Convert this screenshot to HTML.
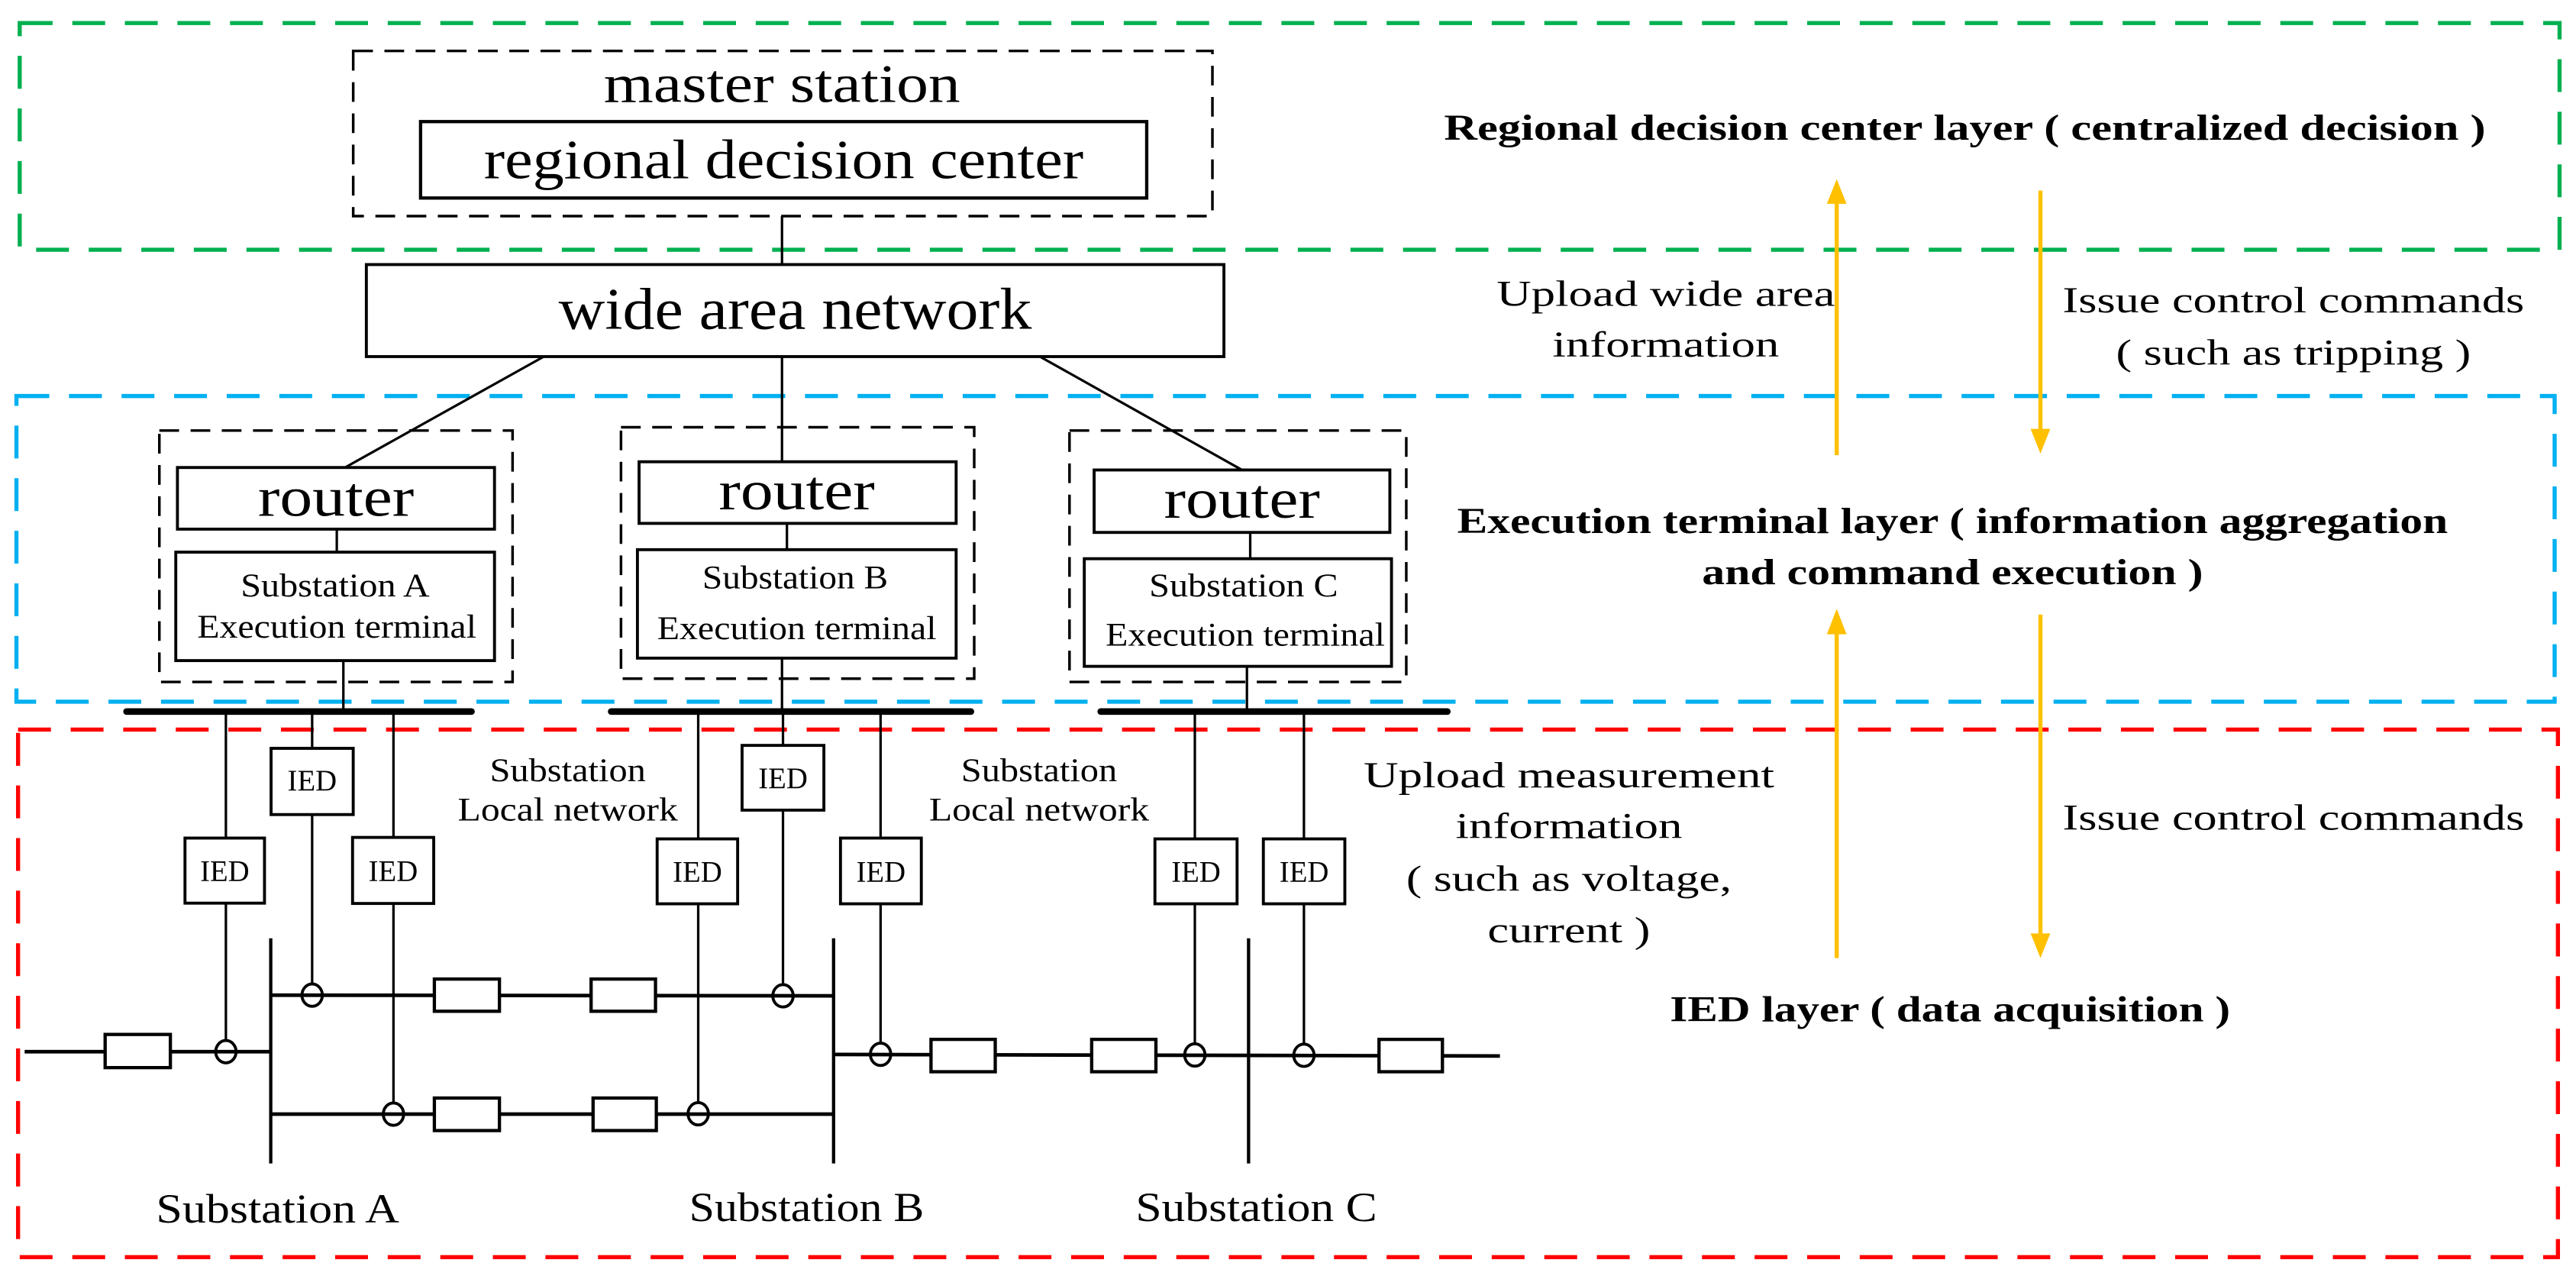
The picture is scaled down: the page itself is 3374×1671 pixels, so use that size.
<!DOCTYPE html>
<html><head><meta charset="utf-8"><style>
html,body{margin:0;padding:0;background:#fff;}
svg{display:block;}
text{font-family:"Liberation Serif",serif;fill:#000;}
</style></head><body>
<svg width="3374" height="1671" viewBox="0 0 1568 776.5" preserveAspectRatio="none" xmlns="http://www.w3.org/2000/svg">
<rect x="0" y="0" width="1568" height="776.5" fill="#fff"/>
<rect x="12" y="14" width="1546" height="138" fill="none" stroke="#00B050" stroke-width="2.5" stroke-dasharray="20 12"/>
<rect x="10" y="241" width="1545" height="186" fill="none" stroke="#00B0F0" stroke-width="2.5" stroke-dasharray="20 12"/>
<rect x="11" y="444" width="1546" height="321" fill="none" stroke="#FF0000" stroke-width="2.5" stroke-dasharray="20 12"/>

<g fill="none" stroke="#000">
<rect x="215" y="31" width="523" height="100.5" stroke-width="1.6" stroke-dasharray="12 7"/>
<rect x="256" y="74" width="442" height="46.5" stroke-width="2"/>
<line x1="476" y1="131.5" x2="476" y2="161" stroke-width="1.5"/>
<rect x="223" y="161" width="522" height="56" stroke-width="1.8"/>
<line x1="331" y1="217" x2="210" y2="284.5" stroke-width="1.5"/>
<line x1="476" y1="217" x2="476" y2="281" stroke-width="1.5"/>
<line x1="633" y1="217" x2="756" y2="286" stroke-width="1.5"/>
<rect x="97" y="262" width="215" height="153" stroke-width="1.6" stroke-dasharray="12 7"/>
<rect x="108" y="284.5" width="193" height="37.5" stroke-width="1.8"/>
<line x1="205" y1="322" x2="205" y2="336" stroke-width="1.5"/>
<rect x="107" y="336" width="194" height="66" stroke-width="1.8"/>
<line x1="209" y1="402" x2="209" y2="433" stroke-width="1.5"/>
<rect x="378" y="260" width="215" height="153" stroke-width="1.6" stroke-dasharray="12 7"/>
<rect x="389" y="281" width="193" height="37.5" stroke-width="1.8"/>
<line x1="479" y1="318.5" x2="479" y2="334.5" stroke-width="1.5"/>
<rect x="388" y="334.5" width="194" height="66" stroke-width="1.8"/>
<line x1="476" y1="400.5" x2="476" y2="433" stroke-width="1.5"/>
<rect x="651" y="262" width="205" height="153" stroke-width="1.6" stroke-dasharray="12 7"/>
<rect x="666" y="286" width="180" height="38" stroke-width="1.8"/>
<line x1="761" y1="324" x2="761" y2="340" stroke-width="1.5"/>
<rect x="660" y="340" width="187" height="65.5" stroke-width="1.8"/>
<line x1="759" y1="405.5" x2="759" y2="433" stroke-width="1.5"/>
<g stroke-width="4" stroke-linecap="round">
<line x1="77" y1="433" x2="287" y2="433"/>
<line x1="372" y1="433" x2="591" y2="433"/>
<line x1="670" y1="433" x2="881" y2="433"/>
</g>
<g stroke-width="1.5">
<line x1="137.5" y1="433" x2="137.5" y2="633"/>
<line x1="190" y1="433" x2="190" y2="599"/>
<line x1="239.5" y1="433" x2="239.5" y2="671.5"/>
<line x1="425" y1="433" x2="425" y2="671"/>
<line x1="476.6" y1="433" x2="476.6" y2="599.5"/>
<line x1="536" y1="433" x2="536" y2="635"/>
<line x1="727.3" y1="433" x2="727.3" y2="635.5"/>
<line x1="793.7" y1="433" x2="793.7" y2="635.5"/>
</g>
<g stroke-width="1.8" fill="#fff">
<rect x="112.6" y="510" width="48.4" height="39.6"/>
<rect x="165" y="455.4" width="50" height="40.3"/>
<rect x="214.6" y="509.6" width="49.4" height="40.2"/>
<rect x="400" y="510.5" width="49" height="39.5"/>
<rect x="451.7" y="453.6" width="49.8" height="39.4"/>
<rect x="511.6" y="510" width="49.2" height="40"/>
<rect x="703" y="510.5" width="50" height="39.5"/>
<rect x="769" y="510.5" width="49.6" height="39.5"/>
</g>
<g stroke-width="2">
<line x1="164.8" y1="571" x2="164.8" y2="708"/>
<line x1="507.4" y1="571" x2="507.4" y2="708"/>
<line x1="760" y1="571" x2="760" y2="708"/>
</g>
<g stroke-width="2.2">
<line x1="15" y1="640" x2="164.8" y2="640"/>
<line x1="164.8" y1="605.6" x2="507.4" y2="606"/>
<line x1="164.8" y1="678" x2="507.4" y2="678"/>
<line x1="507.4" y1="641.7" x2="913" y2="642.6"/>
</g>
<g stroke-width="2" fill="#fff">
<rect x="64" y="629.5" width="39.7" height="20.2"/>
<rect x="264.4" y="595.8" width="39.6" height="19.6"/>
<rect x="359.8" y="595.8" width="39.2" height="19.6"/>
<rect x="264.4" y="668.2" width="39.6" height="19.8"/>
<rect x="361" y="668.2" width="38.5" height="19.8"/>
<rect x="566.7" y="632.5" width="39.1" height="19.7"/>
<rect x="664.5" y="632.5" width="39.1" height="19.7"/>
<rect x="839.4" y="632.5" width="38.6" height="19.7"/>
</g>
<g stroke-width="1.8" fill="none">
<ellipse cx="137.5" cy="640" rx="6.2" ry="6.8"/>
<ellipse cx="190" cy="605.6" rx="6.2" ry="6.8"/>
<ellipse cx="239.5" cy="678" rx="6.2" ry="6.8"/>
<ellipse cx="425" cy="677.8" rx="6.2" ry="6.8"/>
<ellipse cx="476.6" cy="606" rx="6.2" ry="6.8"/>
<ellipse cx="536" cy="641.6" rx="6.2" ry="6.8"/>
<ellipse cx="727.3" cy="642" rx="6.2" ry="6.8"/>
<ellipse cx="793.7" cy="642.2" rx="6.2" ry="6.8"/>
</g>
</g>

<g stroke="#FFC000" stroke-width="2.5" fill="#FFC000">
<line x1="1118" y1="277" x2="1118" y2="122"/>
<polygon points="1112,124 1124,124 1118,109" stroke="none"/>
<line x1="1242" y1="116" x2="1242" y2="263"/>
<polygon points="1236,261 1248,261 1242,276" stroke="none"/>
<line x1="1118" y1="583" x2="1118" y2="384"/>
<polygon points="1112,386 1124,386 1118,370.5" stroke="none"/>
<line x1="1242" y1="374" x2="1242" y2="570"/>
<polygon points="1236,568 1248,568 1242,583" stroke="none"/>
</g>

<g text-anchor="middle">
<text x="476" y="62" font-size="33" textLength="217" lengthAdjust="spacingAndGlyphs">master station</text>
<text x="477" y="108.5" font-size="34" textLength="365" lengthAdjust="spacingAndGlyphs">regional decision center</text>
<text x="484" y="200" font-size="36" textLength="288" lengthAdjust="spacingAndGlyphs">wide area network</text>
<text x="204.5" y="314" font-size="34" textLength="95" lengthAdjust="spacingAndGlyphs">router</text>
<text x="485" y="310" font-size="34" textLength="95" lengthAdjust="spacingAndGlyphs">router</text>
<text x="756" y="315" font-size="34" textLength="95" lengthAdjust="spacingAndGlyphs">router</text>
<g font-size="20">
<text x="204" y="363" textLength="115" lengthAdjust="spacingAndGlyphs">Substation A</text>
<text x="205" y="388" textLength="170" lengthAdjust="spacingAndGlyphs">Execution terminal</text>
<text x="484" y="358" textLength="113" lengthAdjust="spacingAndGlyphs">Substation B</text>
<text x="485" y="389" textLength="170" lengthAdjust="spacingAndGlyphs">Execution terminal</text>
<text x="757" y="363" textLength="115" lengthAdjust="spacingAndGlyphs">Substation C</text>
<text x="758" y="393" textLength="170" lengthAdjust="spacingAndGlyphs">Execution terminal</text>
<text x="345.6" y="475.3" textLength="95" lengthAdjust="spacingAndGlyphs">Substation</text>
<text x="345.6" y="499.3" textLength="134" lengthAdjust="spacingAndGlyphs">Local  network</text>
<text x="632.5" y="475.3" textLength="95" lengthAdjust="spacingAndGlyphs">Substation</text>
<text x="632.5" y="499.3" textLength="134" lengthAdjust="spacingAndGlyphs">Local  network</text>
</g>
<g font-size="18">
<text x="136.8" y="536" textLength="30" lengthAdjust="spacingAndGlyphs">IED</text>
<text x="190" y="481" textLength="30" lengthAdjust="spacingAndGlyphs">IED</text>
<text x="239.3" y="536" textLength="30" lengthAdjust="spacingAndGlyphs">IED</text>
<text x="424.5" y="536.5" textLength="30" lengthAdjust="spacingAndGlyphs">IED</text>
<text x="476.6" y="479.5" textLength="30" lengthAdjust="spacingAndGlyphs">IED</text>
<text x="536.2" y="536.5" textLength="30" lengthAdjust="spacingAndGlyphs">IED</text>
<text x="728" y="536.5" textLength="30" lengthAdjust="spacingAndGlyphs">IED</text>
<text x="793.8" y="536.5" textLength="30" lengthAdjust="spacingAndGlyphs">IED</text>
</g>
<g font-size="25">
<text x="169" y="744" textLength="148" lengthAdjust="spacingAndGlyphs">Substation A</text>
<text x="491" y="743" textLength="143" lengthAdjust="spacingAndGlyphs">Substation B</text>
<text x="764.7" y="743" textLength="147" lengthAdjust="spacingAndGlyphs">Substation C</text>
</g>
<g font-size="22">
<text x="1014" y="186" textLength="206" lengthAdjust="spacingAndGlyphs">Upload wide area</text>
<text x="1014" y="217" textLength="138" lengthAdjust="spacingAndGlyphs">information</text>
<text x="1396" y="190" textLength="281" lengthAdjust="spacingAndGlyphs">Issue control commands</text>
<text x="1396" y="222" textLength="216" lengthAdjust="spacingAndGlyphs">( such as tripping )</text>
<text x="955" y="479" textLength="250" lengthAdjust="spacingAndGlyphs">Upload measurement</text>
<text x="955" y="510" textLength="138" lengthAdjust="spacingAndGlyphs">information</text>
<text x="955" y="542" textLength="198" lengthAdjust="spacingAndGlyphs">( such as voltage,</text>
<text x="955" y="573.5" textLength="99" lengthAdjust="spacingAndGlyphs">current )</text>
<text x="1396" y="505" textLength="281" lengthAdjust="spacingAndGlyphs">Issue control commands</text>
</g>
<g font-size="22" font-weight="bold">
<text x="1196" y="85" textLength="634" lengthAdjust="spacingAndGlyphs">Regional decision center layer ( centralized decision )</text>
<text x="1188.5" y="324.4" textLength="603" lengthAdjust="spacingAndGlyphs">Execution terminal layer ( information aggregation</text>
<text x="1188.5" y="355.6" textLength="305" lengthAdjust="spacingAndGlyphs">and command execution )</text>
<text x="1187" y="621.6" textLength="341" lengthAdjust="spacingAndGlyphs">IED layer ( data acquisition )</text>
</g>
</g>
</svg>
</body></html>
